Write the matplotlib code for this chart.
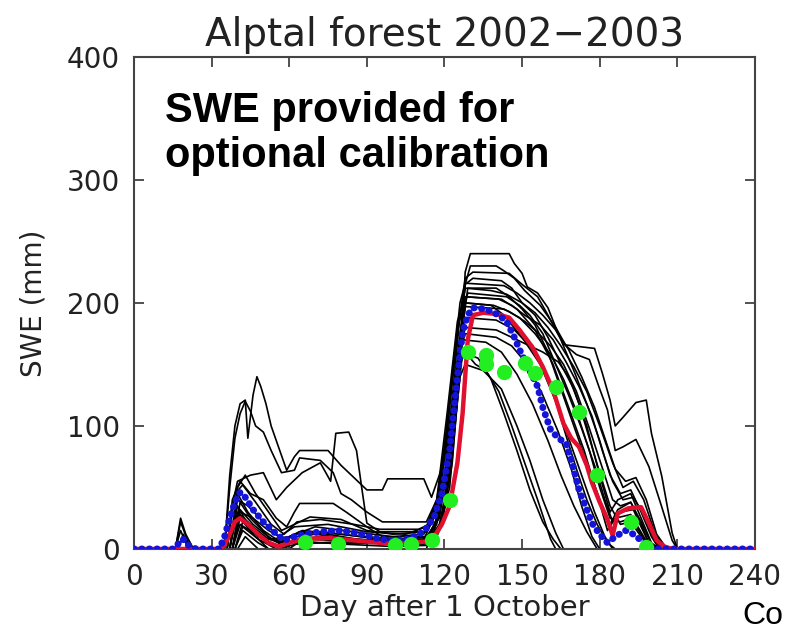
import numpy as np
import matplotlib.pyplot as plt

# snow water equivalent, Alptal forest site, winter 2002-2003
# each model run as (day after 1 October, SWE mm) vertices
run01 = [(0, 0), (16, 0), (18, 22), (21, 5), (23, 0), (35, 0), (37, 60), (39, 100), (41, 118), (43, 121),
         (44, 90), (46, 125), (47.5, 140), (49, 132), (51, 118), (53, 100), (56, 82), (59, 64), (62, 75),
         (64, 80), (75, 80), (80, 68), (85, 58), (90, 48), (96, 48), (98, 57), (112, 57), (115, 42),
         (118, 60), (121, 80), (124, 130), (127, 180), (128, 225), (130, 240), (145, 240), (147, 232),
         (150, 224), (152, 213), (156, 208), (160, 196), (163, 180), (166, 166), (178, 163), (181, 143),
         (184, 121), (186, 100), (189, 107), (194, 119), (198, 121), (200, 94), (204, 59), (208, 13),
         (210, 0), (240, 0)]
run02 = [(0, 0), (35, 0), (37, 50), (39, 90), (41, 110), (43, 120), (45, 112), (47, 100), (50, 95), (53, 80),
         (57, 62), (62, 64), (64, 74), (72, 72), (77, 62), (80, 45), (84, 40), (90, 30), (96, 22), (113, 22),
         (117, 40), (121, 90), (125, 150), (128, 215), (130, 230), (140, 230), (143, 226), (147, 220),
         (151, 210), (157, 198), (163, 180), (167, 165), (171, 158), (176, 154), (180, 130), (183, 113),
         (186, 80), (189, 83), (194, 89), (199, 67), (204, 34), (208, 7), (210, 0), (240, 0)]
run03 = [(0, 0), (16, 0), (18, 15), (21, 0), (36, 0), (38, 35), (40, 55), (45, 60), (50, 62), (55, 40),
         (59, 50), (65, 62), (72, 70), (76, 55), (78, 94), (83, 95), (86, 80), (88, 50), (90, 21), (95, 14),
         (113, 14), (118, 35), (122, 80), (126, 170), (128, 215), (131, 220), (142, 218), (146, 212),
         (150, 200), (155, 190), (160, 172), (165, 150), (170, 130), (175, 100), (180, 60), (184, 30),
         (187, 40), (192, 45), (196, 25), (200, 5), (203, 0), (240, 0)]
run04 = [(0, 0), (36, 0), (38, 40), (41, 55), (45, 45), (50, 40), (55, 25), (59, 18), (62, 30), (64, 37),
         (77, 37), (82, 30), (90, 18), (96, 10), (113, 10), (118, 25), (123, 90), (127, 180), (129, 212),
         (140, 212), (145, 205), (150, 195), (155, 182), (160, 160), (165, 130), (170, 100), (175, 70),
         (180, 40), (184, 20), (187, 32), (192, 38), (196, 20), (200, 0), (240, 0)]
run05 = [(0, 0), (17, 0), (19, 10), (22, 0), (37, 0), (40, 30), (45, 18), (52, 5), (58, 0), (63, 10),
         (70, 12), (85, 8), (113, 5), (118, 20), (122, 60), (126, 160), (128, 205), (142, 203), (148, 195),
         (155, 178), (162, 150), (168, 115), (174, 80), (179, 45), (183, 15), (186, 25), (192, 28),
         (197, 10), (200, 0), (240, 0)]
run06 = [(0, 0), (38, 0), (41, 20), (47, 12), (55, 3), (60, 0), (65, 8), (90, 6), (115, 4), (119, 20),
         (123, 70), (126, 150), (128, 200), (138, 198), (143, 190), (150, 172), (157, 150), (163, 120),
         (168, 90), (173, 60), (178, 30), (182, 10), (185, 0), (240, 0)]
run07 = [(0, 0), (38, 0), (41, 25), (46, 12), (52, 0), (64, 0), (66, 6), (80, 4), (100, 2), (114, 3),
         (118, 15), (122, 50), (125, 120), (127, 160), (133, 155), (138, 138), (143, 110), (148, 80),
         (153, 48), (158, 22), (162, 8), (165, 0), (240, 0)]
run08 = [(0, 0), (39, 0), (42, 15), (48, 5), (52, 0), (115, 0), (119, 20), (123, 80), (126, 140),
         (128, 150), (135, 145), (142, 130), (148, 100), (153, 72), (158, 40), (163, 13), (166, 0), (240, 0)]
run09 = [(0, 0), (37, 0), (40, 35), (44, 20), (50, 10), (56, 5), (62, 12), (72, 14), (88, 10), (105, 8),
         (114, 10), (118, 30), (122, 75), (126, 160), (128, 175), (140, 172), (146, 165), (152, 150),
         (158, 125), (164, 95), (169, 65), (173, 35), (177, 10), (180, 0), (240, 0)]
run10 = [(0, 0), (16, 0), (18, 25), (20, 12), (23, 0), (37, 0), (40, 45), (44, 30), (50, 15), (57, 5),
         (64, 14), (75, 12), (86, 8), (100, 6), (113, 8), (118, 28), (123, 110), (127, 190), (129, 208),
         (144, 205), (149, 198), (153, 190), (158, 175), (163, 150), (168, 125), (173, 98), (178, 68),
         (182, 40), (185, 22), (188, 30), (193, 32), (196, 18), (199, 5), (202, 0), (240, 0)]
run11 = [(0, 0), (37, 0), (40, 50), (43, 60), (47, 45), (52, 30), (57, 15), (62, 20), (68, 26), (80, 24),
         (90, 15), (100, 12), (113, 14), (117, 35), (121, 95), (125, 175), (128, 220), (131, 225),
         (145, 224), (150, 215), (156, 205), (160, 190), (165, 170), (170, 145), (175, 118), (180, 88),
         (184, 60), (188, 45), (192, 48), (196, 30), (200, 10), (203, 0), (240, 0)]
run12 = [(0, 0), (38, 0), (41, 30), (46, 25), (52, 15), (58, 8), (65, 15), (80, 12), (95, 8), (112, 8),
         (117, 30), (122, 100), (126, 190), (128, 212), (138, 210), (144, 207), (150, 200), (155, 192),
         (160, 180), (165, 165), (170, 148), (175, 128), (180, 100), (185, 70), (189, 50), (193, 55),
         (197, 40), (201, 15), (205, 0), (240, 0)]
run13 = [(0, 0), (39, 0), (42, 22), (48, 10), (55, 2), (60, 0), (113, 0), (117, 25), (122, 85), (126, 170),
         (128, 188), (140, 186), (147, 178), (153, 165), (158, 148), (163, 120), (167, 92), (171, 65),
         (175, 40), (179, 20), (183, 5), (186, 0), (240, 0)]
run14 = [(0, 0), (17, 0), (19, 12), (22, 0), (38, 0), (41, 38), (45, 25), (52, 10), (58, 2), (63, 8),
         (72, 10), (95, 6), (113, 6), (118, 26), (122, 90), (126, 175), (128, 197), (143, 195), (149, 188),
         (155, 175), (161, 158), (166, 138), (171, 112), (176, 80), (180, 50), (184, 25), (188, 22),
         (192, 25), (196, 12), (199, 0), (240, 0)]
run15 = [(0, 0), (38, 0), (41, 28), (46, 18), (52, 8), (60, 5), (75, 5), (112, 4), (117, 20), (121, 70),
         (125, 150), (128, 180), (140, 178), (146, 172), (152, 166), (158, 160), (164, 152), (168, 140),
         (172, 118), (176, 90), (180, 62), (184, 35), (188, 20), (192, 22), (196, 10), (200, 0), (240, 0)]
run16 = [(0, 0), (40, 0), (43, 10), (48, 0), (115, 0), (119, 25), (123, 90), (126, 150), (128, 160),
         (132, 150), (136, 145), (141, 128), (146, 100), (151, 70), (156, 40), (161, 8), (163, 0), (240, 0)]
run17 = [(0, 0), (37, 0), (40, 40), (44, 35), (50, 22), (56, 10), (62, 18), (75, 20), (90, 14), (105, 12),
         (113, 18), (117, 40), (121, 110), (125, 185), (128, 205), (141, 203), (146, 198), (151, 190),
         (157, 182), (162, 170), (167, 152), (172, 132), (177, 108), (181, 80), (185, 55), (189, 40),
         (193, 42), (197, 28), (201, 8), (204, 0), (240, 0)]
run18 = [(0, 0), (38, 0), (41, 32), (46, 20), (53, 8), (60, 10), (70, 18), (85, 14), (100, 10), (112, 12),
         (117, 35), (121, 100), (125, 180), (128, 200), (139, 198), (145, 193), (151, 185), (156, 176),
         (161, 165), (166, 150), (171, 128), (176, 98), (181, 66), (185, 40), (188, 35), (192, 38),
         (196, 22), (200, 4), (203, 0), (240, 0)]
run19 = [(0, 0), (36, 0), (39, 45), (42, 52), (47, 38), (53, 20), (58, 12), (63, 22), (72, 24), (85, 20),
         (95, 16), (110, 16), (114, 20), (118, 45), (122, 120), (126, 200), (128, 216), (143, 214),
         (148, 208), (153, 200), (158, 190), (163, 178), (168, 162), (173, 140), (178, 115), (182, 90),
         (186, 65), (190, 55), (194, 58), (198, 40), (202, 12), (206, 0), (240, 0)]
run20 = [(0, 0), (39, 0), (42, 18), (48, 8), (55, 0), (63, 4), (80, 6), (110, 4), (116, 14), (120, 55),
         (124, 130), (127, 170), (136, 168), (142, 160), (148, 142), (154, 118), (160, 88), (165, 60),
         (170, 35), (175, 14), (179, 0), (240, 0)]
runs = [run01, run02, run03, run04, run05, run06, run07, run08, run09, run10,
        run11, run12, run13, run14, run15, run16, run17, run18, run19, run20]

# ensemble mean
mean_run = [(0, 0), (33, 0), (35, 3), (37, 12), (39, 22), (41, 25), (44, 20), (48, 12), (52, 5), (56, 2),
            (60, 5), (65, 8), (75, 9), (85, 7), (95, 5), (105, 5), (113, 6), (116, 10), (119, 20), (122, 35),
            (125, 70), (127, 110), (129, 170), (131, 190), (135, 192), (140, 191), (145, 188), (149, 178),
            (154, 164), (158, 148), (162, 129), (166, 102), (169, 90), (172, 83), (175, 68), (177, 54),
            (180, 38), (183, 24), (185, 11), (187, 29), (191, 33), (196, 34), (199, 21), (202, 7), (205, 2),
            (208, 0), (240, 0)]
# ensemble median
median_run = [(0, 0), (15, 0), (17, 4), (19, 8), (21, 3), (24, 0), (33, 0), (35, 10), (37, 25), (39, 38),
              (41, 46), (43, 42), (46, 32), (50, 22), (54, 14), (58, 7), (62, 10), (66, 12), (72, 14),
              (80, 15), (88, 12), (95, 8), (100, 7), (106, 8), (112, 14), (116, 26), (119, 45), (122, 80),
              (125, 140), (127, 176), (129, 190), (131, 196), (136, 195), (141, 190), (144, 185), (147, 172),
              (149, 162), (153, 145), (156, 132), (158, 115), (161, 97), (164, 90), (167, 86), (170, 65),
              (172, 48), (175, 32), (177, 21), (180, 12), (183, 5), (186, 10), (190, 15), (193, 12), (196, 7),
              (199, 2), (202, 0), (240, 0)]

# measured SWE
obs_day = [66, 79, 101, 107, 115, 122, 129, 136, 136, 143, 151, 155, 163, 172, 179, 192, 198]
obs_swe = [6, 4, 3, 4, 7, 40, 160, 158, 150, 144, 151, 143, 132, 111, 60, 22, 2]

xticks = [0, 30, 60, 90, 120, 150, 180, 210, 240]
yticks = [0, 100, 200, 300, 400]

fig = plt.figure(figsize=(7.93, 6.31), dpi=100)
ax = fig.add_axes([0.169, 0.130, 0.783, 0.780])

for r in runs:
    d, v = zip(*r)
    ax.plot(d, v, color='black', lw=1.2, zorder=2)

d, v = zip(*mean_run)
ax.plot(d, v, color='#e0102e', lw=3.2, zorder=3)

d, v = zip(*median_run)
ax.plot(d, v, color='#1414d8', lw=5, linestyle=(0, (0.05, 1.05)),
        dash_capstyle='round', zorder=4)

ax.plot(obs_day, obs_swe, 'o', color='#22ee22', ms=11, mec='none', zorder=5)

ax.set_xlim(0, 240)
ax.set_ylim(0, 400)
ax.set_xticks(xticks)
ax.set_yticks(yticks)
ax.tick_params(direction='in', length=7, width=1.2, color='#333333',
               top=True, right=True, labelsize=20, pad=10, labelcolor='#222222')
for s in ax.spines.values():
    s.set_color('#444444')
    s.set_linewidth(1.5)

ax.set_title('Alptal forest 2002\u22122003', fontsize=28, color='#222222', pad=8)
ax.set_xlabel('Day after 1 October', fontsize=21, color='#222222', labelpad=2)
ax.set_ylabel('SWE (mm)', fontsize=20, color='#222222', labelpad=14)

ax.text(0.05, 0.93, 'SWE provided for\noptional calibration', transform=ax.transAxes,
        family='Liberation Sans', fontweight='bold', fontsize=30, va='top', ha='left',
        linespacing=1.15)
fig.text(0.936, 0.0, 'Co', family='Liberation Sans', fontsize=23, va='bottom', ha='left')

fig.savefig('out.png', dpi=100)
